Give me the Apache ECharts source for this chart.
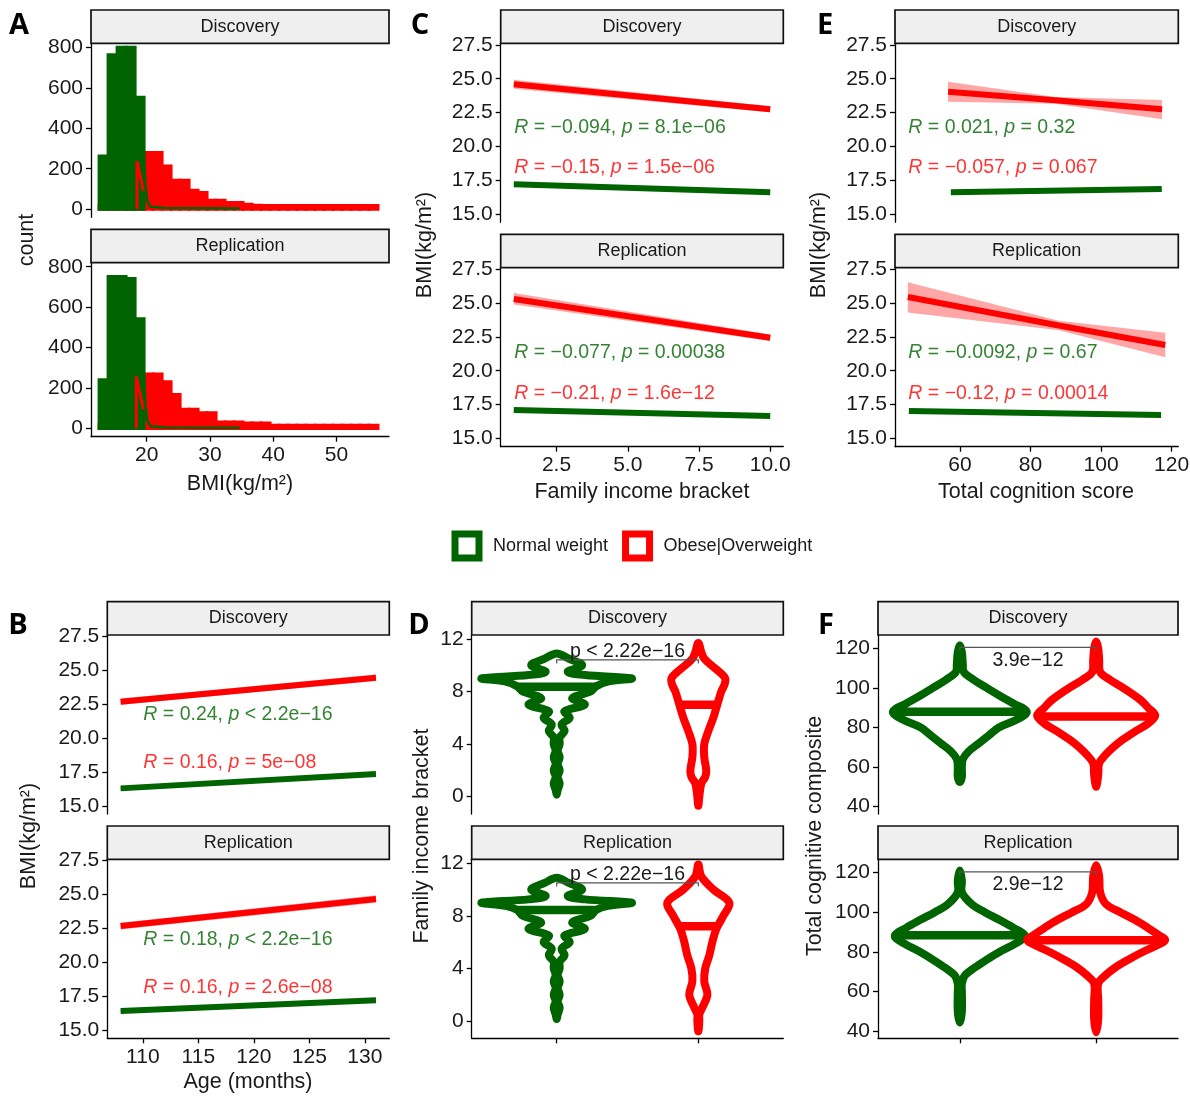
<!DOCTYPE html>
<html>
<head>
<meta charset="utf-8">
<script src="https://cdn.jsdelivr.net/npm/echarts@6/dist/echarts.min.js"></script>
<style>
  html, body { margin: 0; background: #fff; }
  #chart { width: 1190px; height: 1097px; }
</style>
</head>
<body>
<div id="chart"></div>
<script>
const GREEN = '#006400';
const RED = '#ff0000';
const INK = '#1a1a1a';
const FONT = '"Liberation Sans", Arial, sans-serif';

// ---- tick labels ----
const countTicks = [0, 200, 400, 600, 800];
const bmiXTicks = [20, 30, 40, 50];
const bmiTicks = [15, 17.5, 20, 22.5, 25, 27.5];
const ageTicks = [110, 115, 120, 125, 130];
const incomeTicks = [2.5, 5, 7.5, 10];
const cognitionTicks = [60, 80, 100, 120];
const bracketTicks = [0, 4, 8, 12];
const compositeTicks = [40, 60, 80, 100, 120];
const groupTicks = [1, 2];

// ---- A: BMI histograms (bins share start/width) ----
const histBinStart = 12.48;
const histBinWidth = 1.422;
const histGreenDisc = [263, 764, 800, 800, 553];
const histRedDisc = [20, 20, 20, 40, 40, 280, 280, 213, 143, 143, 94, 82, 44, 44, 33, 33, 25, 20, 18, 18, 18, 18, 18, 18, 18, 18, 18, 18, 18, 18, 18];
const histGreenRep = [241, 752, 752, 742, 543];
const histRedRep = [22, 22, 22, 41, 41, 270, 270, 232, 169, 96, 96, 78, 78, 33, 33, 33, 28, 28, 28, 17, 17, 17, 17, 17, 17, 17, 17, 17, 17, 17, 17];
const spikeRedDisc = [[18.48, 0], [18.48, 238], [19.5, 90]];
const spikeRedRep = [[18.35, 0], [18.35, 257], [19.5, 95]];
const edgeGreenDisc = [[19.59, 250], [19.8, 120], [20.1, 40], [20.6, 12], [23, 6], [34.7, 4]];
const edgeGreenRep = [[19.59, 257], [19.8, 120], [20.1, 40], [20.6, 12], [23, 6], [34.7, 4]];

// ---- regression fits: [x, fit, lower, upper] ----
const bDiscRed = [[108, 22.68, 22.45, 22.91], [131, 24.45, 24.22, 24.68]];
const bDiscGreen = [[108, 16.29, 16.2, 16.38], [131, 17.35, 17.26, 17.44]];
const bRepRed = [[108, 22.68, 22.43, 22.93], [131, 24.67, 24.4, 24.94]];
const bRepGreen = [[108, 16.41, 16.33, 16.49], [131, 17.2, 17.12, 17.28]];
const cDiscRed = [[1, 24.59, 24.25, 24.93], [10, 22.74, 22.52, 22.96]];
const cDiscGreen = [[1, 17.19, 17.1, 17.28], [10, 16.6, 16.5, 16.7]];
const cRepRed = [[1, 25.3, 24.9, 25.75], [10, 22.44, 22.2, 22.68]];
const cRepGreen = [[1, 17.1, 17.0, 17.2], [10, 16.65, 16.55, 16.75]];
const eDiscRed = [[56.6, 24.04, 23.3, 24.78], [87, 23.4, 23.15, 23.65], [117.3, 22.74, 22.0, 23.43]];
const eDiscGreen = [[57.4, 16.6, 16.5, 16.7], [117.2, 16.84, 16.72, 16.96]];
const eRepRed = [[45.2, 25.45, 24.3, 26.55], [88, 23.35, 23.0, 23.7], [118.2, 21.9, 21.0, 22.8]];
const eRepGreen = [[45.5, 17.02, 16.9, 17.14], [117, 16.73, 16.6, 16.86]];

// ---- correlation labels ----
const statsB = [['R = 0.24, p < 2.2e\u221216', 'R = 0.16, p = 5e\u221208'], ['R = 0.18, p < 2.2e\u221216', 'R = 0.16, p = 2.6e\u221208']];
const statsC = [['R = \u22120.094, p = 8.1e\u221206', 'R = \u22120.15, p = 1.5e\u221206'], ['R = \u22120.077, p = 0.00038', 'R = \u22120.21, p = 1.6e\u221212']];
const statsE = [['R = 0.021, p = 0.32', 'R = \u22120.057, p = 0.067'], ['R = \u22120.0092, p = 0.67', 'R = \u22120.12, p = 0.00014']];

// ---- violins: [y, half width] ----
const dDiscGreenShape = [[0.15, 0], [0.5, 0.007], [1, 0.021], [1.5, 0.007], [2, 0.021], [2.5, 0.007], [3, 0.021], [3.5, 0.007], [4, 0.021], [4.5, 0.021], [5, 0.056], [5.5, 0.035], [6, 0.092], [6.5, 0.056], [7, 0.198], [7.5, 0.11], [8, 0.24], [8.4, 0.28], [8.75, 0.36], [9, 0.53], [9.25, 0.2], [9.5, 0.078], [10, 0.18], [10.5, 0.085], [10.9, 0]];
const dDiscRedShape = [[-0.7, 0], [0, 0.007], [1, 0.021], [1.5, 0.049], [2, 0.056], [3, 0.042], [4, 0.042], [5, 0.071], [6, 0.106], [7, 0.134], [8, 0.162], [8.5, 0.184], [9, 0.19], [9.5, 0.148], [10, 0.092], [10.5, 0.042], [11, 0.021], [11.7, 0]];
const dRepGreenShape = [[0.15, 0], [0.5, 0.007], [1, 0.021], [1.5, 0.007], [2, 0.021], [2.5, 0.007], [3, 0.021], [3.5, 0.007], [4, 0.021], [4.5, 0.021], [5, 0.056], [5.5, 0.035], [6, 0.092], [6.5, 0.056], [7, 0.198], [7.5, 0.11], [8, 0.24], [8.45, 0.28], [8.75, 0.36], [9, 0.53], [9.25, 0.2], [9.5, 0.078], [10, 0.18], [10.5, 0.085], [10.9, 0]];
const dRepRedShape = [[-0.8, 0], [0, 0.007], [0.5, 0.007], [1, 0.028], [2, 0.064], [3, 0.042], [4, 0.049], [5, 0.078], [6, 0.099], [7, 0.127], [8, 0.177], [9, 0.219], [10, 0.106], [11, 0.021], [11.9, 0]];
const fDiscGreenShape = [[52.5, 0], [55, 0.015], [60, 0.015], [64, 0.022], [68, 0.066], [72, 0.139], [76, 0.213], [80, 0.286], [84, 0.418], [88, 0.491], [92, 0.396], [96, 0.293], [100, 0.198], [104, 0.103], [108, 0.029], [112, 0.022], [118, 0.015], [121.5, 0]];
const fDiscRedShape = [[50, 0], [56, 0.015], [62, 0.022], [66, 0.066], [70, 0.125], [74, 0.198], [78, 0.286], [82, 0.381], [86, 0.433], [90, 0.381], [94, 0.323], [100, 0.198], [104, 0.103], [108, 0.029], [114, 0.022], [120, 0.015], [123.4, 0]];
const fRepGreenShape = [[44.3, 0], [50, 0.015], [60, 0.015], [64, 0.015], [68, 0.037], [72, 0.11], [76, 0.198], [80, 0.293], [84, 0.403], [88, 0.477], [92, 0.396], [96, 0.293], [100, 0.183], [104, 0.088], [110, 0.015], [116, 0.015], [121, 0]];
const fRepRedShape = [[39.3, 0], [46, 0.015], [56, 0.015], [64, 0.015], [68, 0.066], [72, 0.139], [76, 0.235], [80, 0.345], [84, 0.469], [86, 0.506], [88, 0.469], [92, 0.381], [96, 0.286], [100, 0.176], [104, 0.073], [110, 0.029], [118, 0.022], [123.7, 0]];
const dMedians = [[8.37, 7.0], [8.45, 7.2]];
const fMedians = [[88, 85.5], [88.3, 85.8]];
const dBracketY = [10.4, 10.5];
const fBracketY = [120.4, 120.3];
const dBracketText = ['p < 2.22e\u221216', 'p < 2.22e\u221216'];
const fBracketText = ['3.9e\u221212', '2.9e\u221212'];

// ---- layout: [left, top, width, height] of each facet ----
const boxes = {
  aD: [91, 43.3, 298, 174], aR: [91, 262.7, 298, 174],
  cD: [500.7, 43.3, 282.6, 179], cR: [500.7, 267.7, 282.6, 179],
  eD: [895, 43.3, 283.3, 179], eR: [895, 267.7, 283.3, 179],
  bD: [107.3, 635, 282, 179], bR: [107.3, 859.3, 282, 179],
  dD: [471.7, 635, 311.6, 179], dR: [471.7, 859.3, 311.6, 179],
  fD: [878, 635, 300, 179], fR: [878, 859.3, 300, 179]
};
const STRIP_H = 33.3;

const grids = [], xAxes = [], yAxes = [], series = [], graphics = [];

function makeAxis(min, max, ticks, fmt, visible, showLabels) {
  return {
    type: 'value', min: min, max: max, show: visible,
    axisLine: { show: true, onZero: false, lineStyle: { color: '#000', width: 1.3 } },
    axisTick: { show: true, length: 5, customValues: ticks, lineStyle: { color: '#000', width: 1.3 } },
    axisLabel: { show: showLabels, customValues: ticks, formatter: fmt, fontSize: 21, color: INK, fontFamily: FONT, margin: 8 },
    splitLine: { show: false }
  };
}
const oneDec = v => v.toFixed(1);

function addPanel(box, xAx, yAx, label) {
  const i = grids.length;
  grids.push({ left: box[0], top: box[1], width: box[2], height: box[3], outerBoundsMode: 'none' });
  xAxes.push(Object.assign({ gridIndex: i }, xAx));
  yAxes.push(Object.assign({ gridIndex: i }, yAx));
  graphics.push({
    type: 'rect', z: 10,
    shape: { x: box[0], y: box[1] - STRIP_H, width: box[2], height: STRIP_H },
    style: { fill: '#efefef', stroke: '#111', lineWidth: 1.7 }
  });
  graphics.push({
    type: 'text', z: 11, x: box[0] + box[2] / 2, y: box[1] - STRIP_H / 2,
    style: { text: label, fill: INK, font: '18px ' + FONT, textAlign: 'center', textVerticalAlign: 'middle' }
  });
  return i;
}

function hist(g, counts, color, name) {
  series.push({
    type: 'custom', name: name, xAxisIndex: g, yAxisIndex: g, silent: true,
    data: counts.map((c, k) => [histBinStart + k * histBinWidth, histBinStart + (k + 1) * histBinWidth, c]),
    renderItem: (params, api) => {
      const p0 = api.coord([api.value(0), api.value(2)]);
      const p1 = api.coord([api.value(1), 0]);
      return {
        type: 'rect',
        shape: { x: p0[0], y: p0[1], width: p1[0] - p0[0], height: p1[1] - p0[1] },
        style: { fill: color, stroke: color, lineWidth: 3 }
      };
    }
  });
}

function thinLine(g, pts, color, width, name) {
  series.push({
    type: 'line', name: name, xAxisIndex: g, yAxisIndex: g, data: pts, symbol: 'none', silent: true,
    lineStyle: { color: color, width: width }
  });
}

function regression(g, rows, color, band, name) {
  series.push({
    type: 'custom', name: name, xAxisIndex: g, yAxisIndex: g, silent: true, data: [[rows[0][0], rows[0][1]]],
    renderItem: (params, api) => {
      const upper = rows.map(r => api.coord([r[0], r[3]]));
      const lower = rows.slice().reverse().map(r => api.coord([r[0], r[2]]));
      return { type: 'polygon', shape: { points: upper.concat(lower) }, style: { fill: band } };
    }
  });
  series.push({
    type: 'line', name: name, xAxisIndex: g, yAxisIndex: g, silent: true, symbol: 'none',
    data: rows.map(r => [r[0], r[1]]),
    lineStyle: { color: color, width: 6, cap: 'butt' }
  });
}

function stats(g, x, y, text, color) {
  const rich = text.replace(/^R/, '{i|R}').replace(', p ', ', {i|p} ');
  series.push({
    type: 'scatter', xAxisIndex: g, yAxisIndex: g, silent: true, z: 5,
    data: [[x, y]], symbolSize: 1, itemStyle: { color: 'transparent' },
    label: {
      show: true, position: 'right', distance: 0, formatter: rich,
      color: color, fontSize: 19.5, fontFamily: FONT,
      rich: { i: { fontStyle: 'italic', color: color, fontSize: 19.5, fontFamily: FONT } }
    }
  });
}

function widthAt(shape, y) {
  for (let k = 1; k < shape.length; k++) {
    if (y <= shape[k][0]) {
      const [y0, w0] = shape[k - 1], [y1, w1] = shape[k];
      return w0 + (w1 - w0) * (y - y0) / (y1 - y0);
    }
  }
  return 0;
}

function violin(g, center, shape, median, color, name) {
  series.push({
    type: 'custom', name: name, xAxisIndex: g, yAxisIndex: g, silent: true,
    data: [[center, median]],
    renderItem: (params, api) => {
      const c = api.value(0), m = api.value(1);
      const left = shape.map(([y, w]) => api.coord([c - w, y]));
      const right = shape.slice(1, -1).reverse().map(([y, w]) => api.coord([c + w, y]));
      const hw = widthAt(shape, m);
      const a = api.coord([c - hw, m]), b = api.coord([c + hw, m]);
      return {
        type: 'group', children: [
          { type: 'polygon', shape: { points: left.concat(right), smooth: 0.35 },
            style: { fill: '#fff', stroke: color, lineWidth: 8, lineJoin: 'round' } },
          { type: 'line', shape: { x1: a[0], y1: a[1], x2: b[0], y2: b[1] },
            style: { stroke: color, lineWidth: 8.5 } }
        ]
      };
    }
  });
}

function bracket(g, y, text, above) {
  series.push({
    type: 'custom', xAxisIndex: g, yAxisIndex: g, silent: true, z: 6,
    data: [[groupTicks[0], groupTicks[1], y]],
    renderItem: (params, api) => {
      const p1 = api.coord([api.value(0), api.value(2)]);
      const p2 = api.coord([api.value(1), api.value(2)]);
      return {
        type: 'group', children: [
          { type: 'polyline', shape: { points: [[p1[0], p1[1] + 3.5], p1, p2, [p2[0], p2[1] + 3.5]] },
            style: { stroke: '#555', lineWidth: 1.2, fill: 'none' } },
          { type: 'text', x: (p1[0] + p2[0]) / 2, y: p1[1] + (above ? -8 : 13),
            style: { text: text, fill: INK, fontSize: 19.5, fontFamily: FONT, align: 'center', verticalAlign: 'middle' } }
        ]
      };
    }
  });
}

function title(text, x, y, rotate) {
  graphics.push({
    type: 'text', x: x, y: y, rotation: rotate ? Math.PI / 2 : 0,
    style: { text: text, fill: INK, font: '21.5px ' + FONT, textAlign: 'center', textVerticalAlign: 'middle' }
  });
}

function tag(text, x, y) {
  graphics.push({
    type: 'text', x: x, y: y,
    style: { text: text, fill: '#000', font: 'bold 29px "Open Sans", sans-serif', textAlign: 'center', textVerticalAlign: 'middle' }
  });
}

const NW = 'Normal weight', OB = 'Obese|Overweight';
const facetNames = ['Discovery', 'Replication'];

// ---- Panel A ----
['aD', 'aR'].forEach((key, k) => {
  const g = addPanel(boxes[key],
    makeAxis(11.2, 58.3, bmiXTicks, undefined, k === 1, true),
    makeAxis(-40, 820, countTicks, undefined, true, true), facetNames[k]);
  hist(g, k ? histRedRep : histRedDisc, RED, OB);
  hist(g, k ? histGreenRep : histGreenDisc, GREEN, NW);
  thinLine(g, k ? spikeRedRep : spikeRedDisc, RED, 3, OB);
  thinLine(g, k ? edgeGreenRep : edgeGreenDisc, GREEN, 2.5, NW);
});

// ---- Panel C ----
['cD', 'cR'].forEach((key, k) => {
  const g = addPanel(boxes[key],
    makeAxis(0.54, 10.46, incomeTicks, oneDec, k === 1, true),
    makeAxis(14.38, 27.62, bmiTicks, oneDec, true, true), facetNames[k]);
  regression(g, k ? cRepRed : cDiscRed, RED, 'rgba(255,0,0,0.35)', OB);
  regression(g, k ? cRepGreen : cDiscGreen, GREEN, 'rgba(0,100,0,0.35)', NW);
  stats(g, 1, k ? 21.33 : 21.36, statsC[k][0], GREEN);
  stats(g, 1, k ? 18.33 : 18.4, statsC[k][1], RED);
});

// ---- Panel E ----
['eD', 'eR'].forEach((key, k) => {
  const g = addPanel(boxes[key],
    makeAxis(41.56, 121.9, cognitionTicks, undefined, k === 1, true),
    makeAxis(14.38, 27.62, bmiTicks, oneDec, true, true), facetNames[k]);
  regression(g, k ? eRepRed : eDiscRed, RED, 'rgba(255,0,0,0.35)', OB);
  regression(g, k ? eRepGreen : eDiscGreen, GREEN, 'rgba(0,100,0,0.35)', NW);
  stats(g, 45.2, k ? 21.33 : 21.36, statsE[k][0], GREEN);
  stats(g, 45.2, k ? 18.33 : 18.4, statsE[k][1], RED);
});

// ---- Panel B ----
['bD', 'bR'].forEach((key, k) => {
  const g = addPanel(boxes[key],
    makeAxis(106.8, 132.2, ageTicks, undefined, k === 1, true),
    makeAxis(14.4, 27.6, bmiTicks, oneDec, true, true), facetNames[k]);
  regression(g, k ? bRepRed : bDiscRed, RED, 'rgba(255,0,0,0.35)', OB);
  regression(g, k ? bRepGreen : bDiscGreen, GREEN, 'rgba(0,100,0,0.35)', NW);
  stats(g, 110, 21.7, statsB[k][0], GREEN);
  stats(g, 110, 18.16, statsB[k][1], RED);
});

// ---- Panel D ----
['dD', 'dR'].forEach((key, k) => {
  const g = addPanel(boxes[key],
    makeAxis(0.4, 2.6, groupTicks, undefined, k === 1, false),
    makeAxis(-1.32, 12.3, bracketTicks, undefined, true, true), facetNames[k]);
  violin(g, groupTicks[0], k ? dRepGreenShape : dDiscGreenShape, dMedians[k][0], GREEN, NW);
  violin(g, groupTicks[1], k ? dRepRedShape : dDiscRedShape, dMedians[k][1], RED, OB);
  bracket(g, dBracketY[k], dBracketText[k], true);
});

// ---- Panel F ----
['fD', 'fR'].forEach((key, k) => {
  const g = addPanel(boxes[key],
    makeAxis(0.4, 2.6, groupTicks, undefined, k === 1, false),
    makeAxis(36.3, 126.7, compositeTicks, undefined, true, true), facetNames[k]);
  violin(g, groupTicks[0], k ? fRepGreenShape : fDiscGreenShape, fMedians[k][0], GREEN, NW);
  violin(g, groupTicks[1], k ? fRepRedShape : fDiscRedShape, fMedians[k][1], RED, OB);
  bracket(g, fBracketY[k], fBracketText[k], false);
});

// axis titles
title('count', 27, 240, true);
title('BMI(kg/m\u00b2)', 240, 484, false);
title('BMI(kg/m\u00b2)', 425, 245, true);
title('Family income bracket', 642, 492, false);
title('BMI(kg/m\u00b2)', 819, 245, true);
title('Total cognition score', 1036, 492, false);
title('BMI(kg/m\u00b2)', 29, 836, true);
title('Age (months)', 248, 1082, false);
title('Family income bracket', 422, 836, true);
title('Total cognitive composite', 815, 836, true);

// panel letters
tag('A', 19, 26); tag('C', 420, 26); tag('E', 825, 26);
tag('B', 18, 626); tag('D', 419, 626); tag('F', 826, 626);

const chart = echarts.init(document.getElementById('chart'));
chart.setOption({
  animation: false,
  backgroundColor: '#fff',
  grid: grids,
  xAxis: xAxes,
  yAxis: yAxes,
  legend: {
    left: 451.5, top: 530.5, padding: 0, itemWidth: 24, itemHeight: 24, itemGap: 14, icon: 'rect',
    selectedMode: false,
    textStyle: { fontSize: 18, color: INK, fontFamily: FONT, padding: [0, 0, 0, 9] },
    data: [
      { name: NW, itemStyle: { color: '#fff', borderColor: GREEN, borderWidth: 7 } },
      { name: OB, itemStyle: { color: '#fff', borderColor: RED, borderWidth: 7 } }
    ]
  },
  graphic: { elements: graphics },
  series: series
});
</script>
</body>
</html>
